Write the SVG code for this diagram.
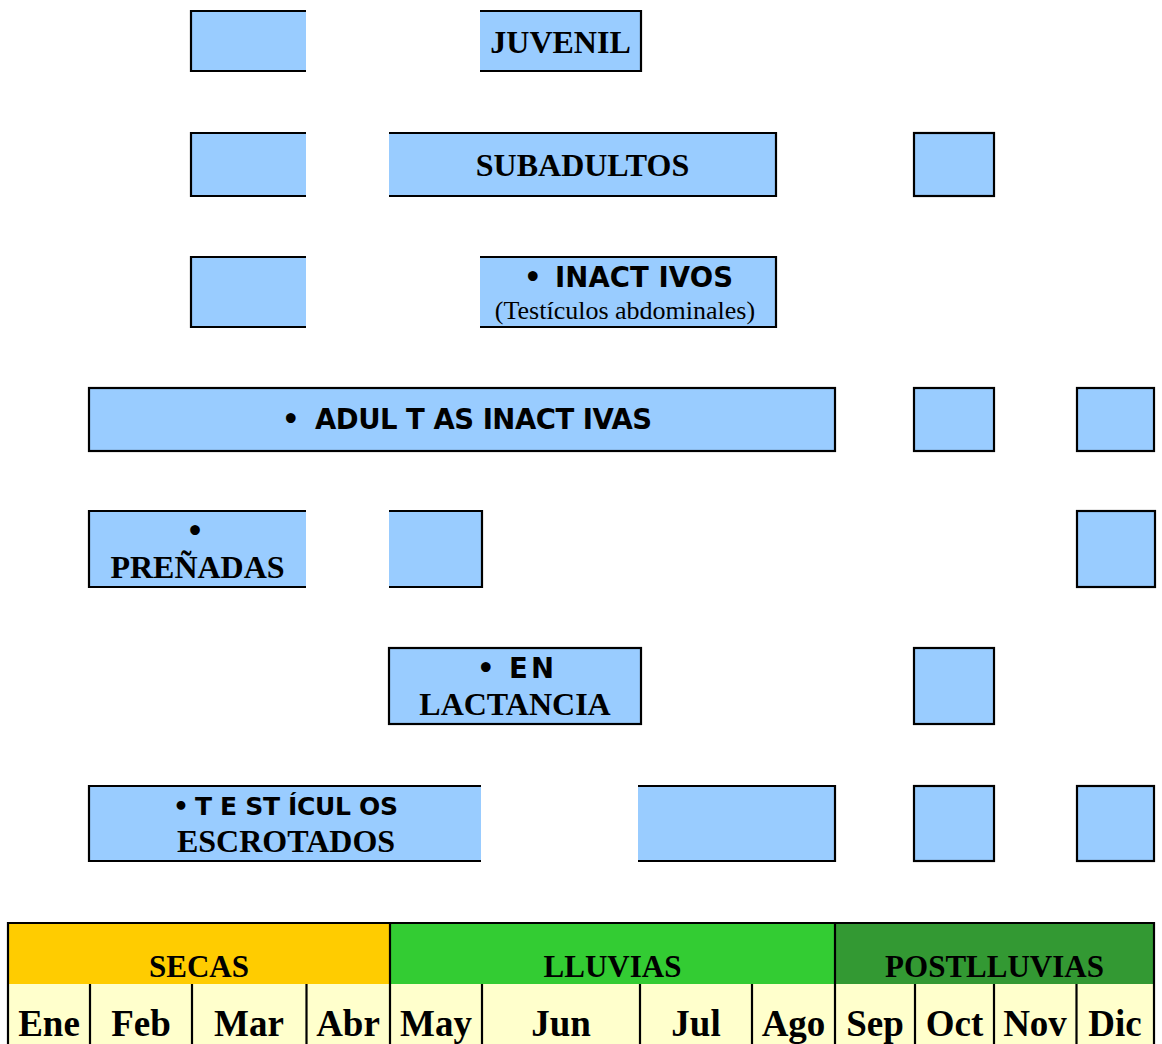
<svg xmlns="http://www.w3.org/2000/svg" width="1162" height="1044" viewBox="0 0 1162 1044">
<style>
.f{fill:#99CCFF;stroke:none}
.e{fill:none;stroke:#000;stroke-width:2.2}
.serif{font-family:"Liberation Serif","Times New Roman",serif;font-weight:bold;fill:#000}
.sans{font-family:"DejaVu Sans","Liberation Sans",sans-serif;font-weight:bold;fill:#000;font-size:27.5px}
.lbl{font-size:32px;text-anchor:middle}
.reg{font-family:"Liberation Serif","Times New Roman",serif;font-weight:normal;font-size:26px;text-anchor:middle;fill:#000}
.mon{font-family:"Liberation Serif","Times New Roman",serif;font-weight:bold;font-size:37px;text-anchor:middle;fill:#000}
.sea{font-family:"Liberation Serif","Times New Roman",serif;font-weight:bold;font-size:31px;text-anchor:middle;fill:#000}
.tl{fill:none;stroke:#000;stroke-width:2.2}
</style>
<rect width="1162" height="1044" fill="#fff"/>
<g id="connectors"/>

<g id="box-r1a"><rect class="f" x="191" y="11" width="115" height="60"/><path class="e" d="M306,11H191V71H306"/></g>
<g id="node-juvenil"><rect class="f" x="480" y="11" width="161" height="60"/><path class="e" d="M480,11H641V71H480"/>
<text class="serif lbl" x="560.5" y="53">JUVENIL</text></g>

<g id="box-r2a"><rect class="f" x="191" y="133" width="115" height="63"/><path class="e" d="M306,133H191V196H306"/></g>
<g id="node-subadultos"><rect class="f" x="389" y="133" width="387" height="63"/><path class="e" d="M389,133H776V196H389"/>
<text class="serif lbl" x="582.5" y="176">SUBADULTOS</text></g>
<g id="box-r2c"><rect class="f" x="914" y="133" width="80" height="63"/><rect class="e" x="914" y="133" width="80" height="63"/></g>

<g id="box-r3a"><rect class="f" x="191" y="257" width="115" height="70"/><path class="e" d="M306,257H191V327H306"/></g>
<g id="node-inactivos"><rect class="f" x="480" y="257" width="296" height="70"/><path class="e" d="M480,257H776V327H480"/>
<text class="sans" y="287"><tspan x="524">•</tspan><tspan x="555" textLength="178" lengthAdjust="spacing">INACT IVOS</tspan></text>
<text class="reg" x="625" y="319">(Testículos abdominales)</text></g>

<g id="node-adultas"><rect class="f" x="89" y="388" width="746" height="63"/><rect class="e" x="89" y="388" width="746" height="63"/>
<text class="sans" y="429"><tspan x="282">•</tspan><tspan x="315" textLength="337" lengthAdjust="spacing">ADUL T AS INACT IVAS</tspan></text></g>
<g id="box-r4b"><rect class="f" x="914" y="388" width="80" height="63"/><rect class="e" x="914" y="388" width="80" height="63"/></g>
<g id="box-r4c"><rect class="f" x="1077" y="388" width="77" height="63"/><rect class="e" x="1077" y="388" width="77" height="63"/></g>

<g id="node-prenadas"><rect class="f" x="89" y="511" width="217" height="76"/><path class="e" d="M306,511H89V587H306"/>
<text class="sans" x="195" y="541" text-anchor="middle">•</text>
<text class="serif lbl" x="197.5" y="578">PREÑADAS</text></g>
<g id="box-r5b"><rect class="f" x="389" y="511" width="93" height="76"/><path class="e" d="M389,511H482V587H389"/></g>
<g id="box-r5c"><rect class="f" x="1077" y="511" width="78" height="76"/><rect class="e" x="1077" y="511" width="78" height="76"/></g>

<g id="node-lactancia"><rect class="f" x="389" y="648" width="252" height="76"/><rect class="e" x="389" y="648" width="252" height="76"/>
<text class="sans" y="678"><tspan x="477">•</tspan><tspan x="509" textLength="45" lengthAdjust="spacing">E N</tspan></text>
<text class="serif lbl" x="515" y="715">LACTANCIA</text></g>
<g id="box-r6b"><rect class="f" x="914" y="648" width="80" height="76"/><rect class="e" x="914" y="648" width="80" height="76"/></g>

<g id="node-testiculos"><rect class="f" x="89" y="786" width="392" height="75"/><path class="e" d="M481,786H89V861H481"/>
<text class="sans" y="815" style="font-size:25px"><tspan x="173">•</tspan><tspan x="195" textLength="203" lengthAdjust="spacing">T E ST ÍCUL OS</tspan></text>
<text class="serif lbl" x="286" y="852">ESCROTADOS</text></g>
<g id="box-r7b"><rect class="f" x="638" y="786" width="197" height="75"/><path class="e" d="M638,786H835V861H638"/></g>
<g id="box-r7c"><rect class="f" x="914" y="786" width="80" height="75"/><rect class="e" x="914" y="786" width="80" height="75"/></g>
<g id="box-r7d"><rect class="f" x="1077" y="786" width="77" height="75"/><rect class="e" x="1077" y="786" width="77" height="75"/></g>

<g id="calendar">
<rect x="8" y="923" width="382" height="61" fill="#FFCC00"/>
<rect x="390" y="923" width="445" height="61" fill="#33CC33"/>
<rect x="835" y="923" width="319" height="61" fill="#339933"/>
<rect x="8" y="984" width="1146" height="62" fill="#FFFFCC"/>
<path class="tl" d="M8,1046V923H1154V1046M390,923V1046M835,923V1046M90,984V1046M192,984V1046M306.5,984V1046M482,984V1046M640,984V1046M752,984V1046M915,984V1046M994,984V1046M1076.5,984V1046"/>
<text class="sea" x="199" y="977">SECAS</text>
<text class="sea" x="612.5" y="977">LLUVIAS</text>
<text class="sea" x="994.5" y="977">POSTLLUVIAS</text>
<text class="mon" x="49" y="1036">Ene</text>
<text class="mon" x="141" y="1036">Feb</text>
<text class="mon" x="249" y="1036">Mar</text>
<text class="mon" x="348" y="1036">Abr</text>
<text class="mon" x="436" y="1036">May</text>
<text class="mon" x="561" y="1036">Jun</text>
<text class="mon" x="696" y="1036">Jul</text>
<text class="mon" x="793.5" y="1036">Ago</text>
<text class="mon" x="875" y="1036">Sep</text>
<text class="mon" x="954.5" y="1036">Oct</text>
<text class="mon" x="1035" y="1036">Nov</text>
<text class="mon" x="1115" y="1036">Dic</text>
</g>
</svg>
